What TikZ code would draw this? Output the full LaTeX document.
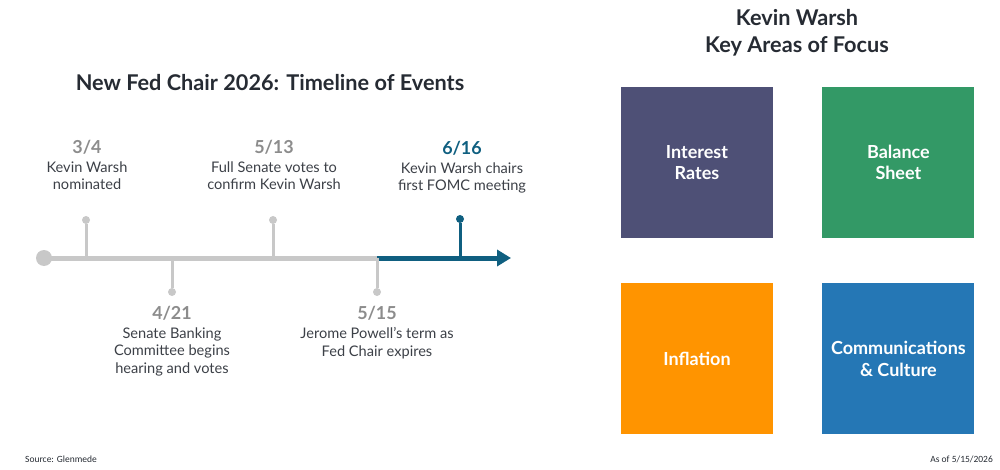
\documentclass[tikz,border=0pt]{standalone}
\usepackage{fontspec}
\setmainfont{Lato}
\newfontfamily\footfont{Carlito}
\usepackage{xcolor}
\usetikzlibrary{positioning, arrows.meta}
\definecolor{axisGray}{HTML}{C8C8C8}
\definecolor{dateGray}{HTML}{8C8C8C}
\definecolor{fedBlue}{HTML}{0F5F80}
\definecolor{inkDark}{HTML}{262B33}
\definecolor{rateNavy}{HTML}{4E5076}
\definecolor{sheetGreen}{HTML}{339966}
\definecolor{inflOrange}{HTML}{FF9400}
\definecolor{commBlue}{HTML}{2577B5}

\begin{document}
\begin{tikzpicture}[
  x=1pt, y=-1pt,
  >=Stealth,
  heading/.style={font=\fontsize{21.7}{27}\selectfont\bfseries, text=inkDark, align=center, inner sep=0pt},
  dateL/.style={font=\fontsize{17.9}{20}\selectfont\bfseries, text=dateGray, inner sep=0pt},
  eventL/.style={font=\fontsize{14.6}{17.5}\selectfont, text=inkDark!90, align=center, inner sep=0pt},
  dotG/.style={circle, fill=axisGray, inner sep=0pt, minimum size=8pt},
  dotB/.style={circle, fill=fedBlue, inner sep=0pt, minimum size=8pt},
  tickG/.style={line width=3pt, draw=axisGray},
  tickB/.style={line width=3pt, draw=fedBlue},
  focusB/.style={minimum width=152pt, minimum height=151pt, inner sep=0pt, text=white, align=center, font=\fontsize{18}{21.5}\selectfont\bfseries},
  footL/.style={font=\footfont\fontsize{9.5}{11}\selectfont, text=inkDark, inner sep=0pt}
]
\useasboundingbox (0,0) rectangle (1000,470);

% timeline
\node[heading] (title) at (270,83) {New Fed Chair 2026: Timeline of Events};
\node[dotG, minimum size=16pt] (origin) at (44,258) {};
\coordinate (split) at (377,258);
\coordinate (tip) at (511,258);
\draw[line width=5pt, draw=axisGray] (origin.center) -- (split);
\draw[line width=5pt, draw=fedBlue, -{Triangle[length=14pt, width=16pt]}] (split) -- (tip);

% events above the line
\node[dotG] (d34) at (86,220) {};
\node[dotG] (d513) at (273,220) {};
\node[dotB] (d616) at (460,219) {};
\draw[tickG] (d34 |- origin) -- (d34);
\draw[tickG] (d513 |- origin) -- (d513);
\draw[tickB] (d616 |- origin) -- (d616);

% events below the line
\node[dotG] (d421) at (172,292) {};
\node[dotG] (d515) at (377,292) {};
\draw[tickG] (d421 |- origin) -- (d421);
\draw[tickG] (split) -- (d515);

\node[dateL] (date34) at (87,147) {3/4};
\node[eventL, below=7pt of date34] (ev34) {Kevin Warsh\\nominated};
\node[dateL] (date513) at (274,147) {5/13};
\node[eventL, below=7pt of date513] (ev513) {Full Senate votes to\\confirm Kevin Warsh};
\node[dateL, text=fedBlue] (date616) at (462,148) {6/16};
\node[eventL, below=7pt of date616] (ev616) {Kevin Warsh chairs\\first FOMC meeting};
\node[dateL] (date421) at (172,313) {4/21};
\node[eventL, below=7pt of date421] (ev421) {Senate Banking\\Committee begins\\hearing and votes};
\node[dateL] (date515) at (377,313) {5/15};
\node[eventL, below=7pt of date515] (ev515) {Jerome Powell’s term as\\Fed Chair expires};

% key areas
\node[heading] (focus) at (797,33) {Kevin Warsh\\Key Areas of Focus};
\node[focusB, fill=rateNavy] (rates) at (697,162.5) {Interest\\Rates};
\node[focusB, fill=sheetGreen, right=49pt of rates] (sheet) {Balance\\Sheet};
\node[focusB, fill=inflOrange, below=45pt of rates] (infl) {Inflation};
\node[focusB, fill=commBlue, below=45pt of sheet] (comm) {Communications\\\& Culture};

\node[footL, anchor=west] (source) at (25,459) {Source: Glenmede};
\node[footL, anchor=east] (asof) at (993,459) {As of 5/15/2026};
\end{tikzpicture}
\end{document}
